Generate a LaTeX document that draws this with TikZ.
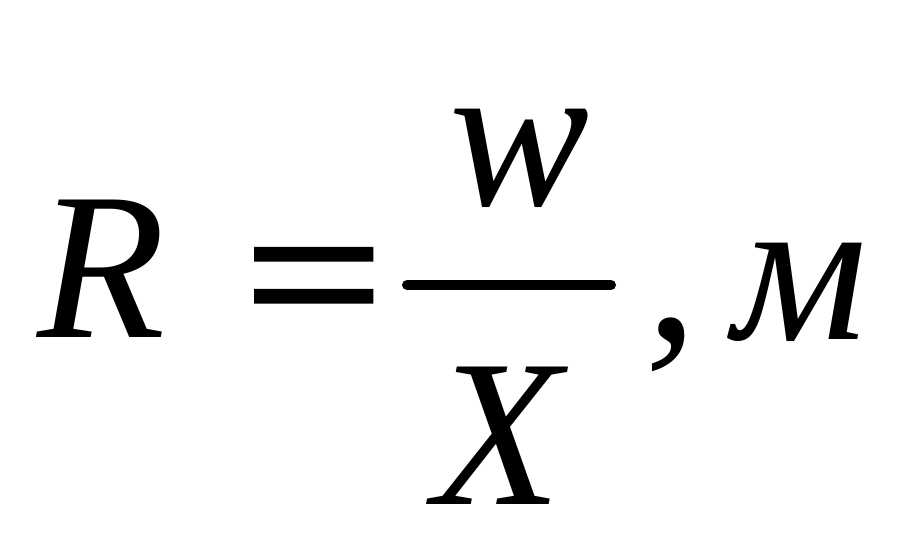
\documentclass[tikz,border=0pt]{standalone}
\usepackage{fontspec}
\setmainfont{Liberation Serif}
\usepackage{tikz}
\usetikzlibrary{positioning}

\newcommand{\formulafont}{\fontsize{210}{250}\selectfont\itshape}
\newcommand{\equalsfont}{\fontsize{210}{250}\selectfont\addfontfeature{FakeBold=2}}

\begin{document}
\begin{tikzpicture}[x=1pt, y=-1pt,
    glyph/.style={inner sep=0pt, anchor=base west, font=\formulafont},
    fracbar/.style={line width=10pt, line cap=round}]
    % Formula R = w / X, m
    \useasboundingbox (0,0) rectangle (907,551);
    \node[glyph] (R) at (37,337) {R};
    \node[glyph, font=\equalsfont, transform shape, xscale=1.17] (eq) at (244,345) {=};
    \node[glyph] (w) at (449,205) {w};
    \node[glyph] (X) at (433,504) {X};
    \node[glyph] (comma) at (645,339) {,};
    \node[glyph] (m) at (733,339) {м};
    \coordinate (barL) at (407,285);
    \coordinate (barR) at (611,285);
    \draw[fracbar] (barL) -- (barR);
\end{tikzpicture}
\end{document}
